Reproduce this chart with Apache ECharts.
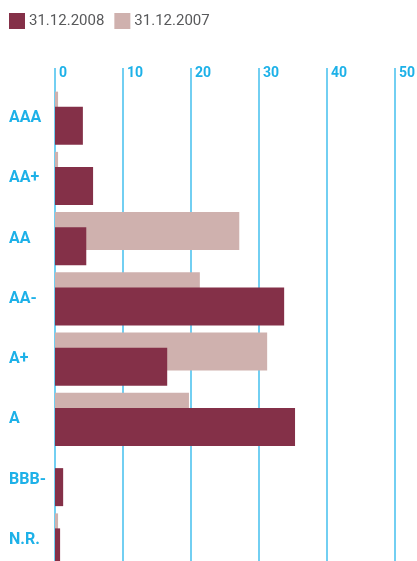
<!DOCTYPE html>
<html><head><meta charset="utf-8">
<script src="https://cdn.jsdelivr.net/npm/echarts@6/dist/echarts.min.js"></script>
<style>html,body{margin:0;padding:0;background:#fff}#c{width:417px;height:561px}</style>
</head><body><div id="c"></div>
<script>
const categories = ['AAA','AA+','AA','AA-','A+','A','BBB-','N.R.'];
const values2008 = [4.1, 5.6, 4.6, 33.7, 16.5, 35.3, 1.2, 0.75];
const values2007 = [0.45, 0.45, 27.1, 21.3, 31.2, 19.7, 0, 0.45];
const xTicks = [0, 10, 20, 30, 40, 50];
const seriesNames = ['31.12.2008', '31.12.2007'];

const blue = '#1db1e8';
const lineBlue = '#72cff2';
const chart = echarts.init(document.getElementById('c'));
chart.setOption({
  animation: false,
  legend: {
    data: seriesNames, left: 9, top: 13, padding: 0, itemWidth: 16, itemHeight: 16, itemGap: 10,
    icon: 'rect',
    textStyle: { fontFamily: 'Roboto', fontSize: 15, color: '#58595b', padding: [0,0,0,-1] }
  },
  grid: { left: 55, width: 340, top: 88, height: 482, containLabel: false, outerBoundsMode: 'none' },
  xAxis: {
    type: 'value', position: 'top', min: xTicks[0], max: xTicks[xTicks.length-1], interval: 10,
    axisLine: { show: false },
    axisTick: { show: true, length: 20, lineStyle: { color: lineBlue, width: 2 } },
    splitLine: { show: true, lineStyle: { color: lineBlue, width: 2 } },
    axisLabel: { align: 'left', margin: 8, padding: [0,0,0,4], color: blue, fontFamily: 'Roboto', fontWeight: 'bold', fontSize: 14 }
  },
  yAxis: {
    type: 'category', data: categories, inverse: true,
    axisLine: { show: false }, axisTick: { show: false },
    axisLabel: { align: 'left', margin: 46, color: blue, fontFamily: 'Roboto', fontWeight: 'bold', fontSize: 16, padding: [0,0,5,0] }
  },
  series: [
    { name: seriesNames[1], type: 'bar', data: values2007, barWidth: 38, barGap: '-60.5%', itemStyle: { color: '#cfb1ae' } },
    { name: seriesNames[0], type: 'bar', data: values2008, barWidth: 38, barGap: '-60.5%', itemStyle: { color: '#843048' } }
  ]
});
</script></body></html>
